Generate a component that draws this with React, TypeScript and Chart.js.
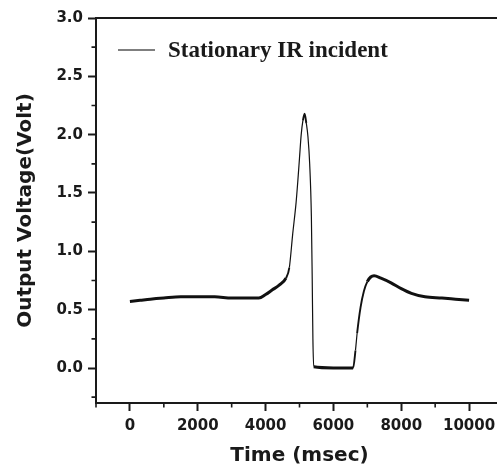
import React, { useEffect, useRef } from "react";
import { Chart, registerables } from "chart.js";

Chart.register(...registerables);

// ---- data ----
const timeMs = [
  0, 300, 600, 1000, 1500, 2000, 2500, 3000, 3500, 3800, 4000, 4200, 4400, 4600,
  4700, 4800, 4900, 4950, 5000, 5050, 5100, 5150, 5200, 5250, 5300, 5350, 5375,
  5395, 5420, 6000, 6580, 6650, 6700, 6800, 6900, 7000, 7100, 7200, 7400, 7700,
  8000, 8300, 8700, 9200, 9600, 10000,
];
const voltage = [
  0.57, 0.58, 0.59, 0.6, 0.61, 0.61, 0.61, 0.6, 0.6, 0.6, 0.63, 0.67, 0.71, 0.77,
  0.86, 1.15, 1.42, 1.6, 1.8, 2.0, 2.12, 2.18, 2.1, 1.98, 1.75, 1.3, 0.76,
  0.25, 0.01, 0.0, 0.0, 0.15, 0.3, 0.52, 0.66, 0.74, 0.78, 0.79, 0.77, 0.73,
  0.68, 0.64, 0.61, 0.6, 0.59, 0.58,
];
const seriesLabel = "Stationary IR incident";
const xTickValues = [0, 2000, 4000, 6000, 8000, 10000];
const xMinorTicks = [-1000, 1000, 3000, 5000, 7000, 9000, 11000];
const yTickValues = [0, 0.5, 1.0, 1.5, 2.0, 2.5, 3.0];
const yMinorTicks = [-0.25, 0.25, 0.75, 1.25, 1.75, 2.25, 2.75];
const xTitle = "Time (msec)";
const yTitle = "Output Voltage(Volt)";

const AXIS_COLOR = "#1a1a1a";

const decorPlugin = {
  id: "decor",
  afterDraw(chart: any) {
    const ctx = chart.ctx;
    const { left, right, top, bottom } = chart.chartArea;
    const xs = chart.scales.x;
    const ys = chart.scales.y;
    ctx.save();
    ctx.strokeStyle = AXIS_COLOR;
    ctx.lineWidth = 2;
    // top frame line
    ctx.beginPath();
    ctx.moveTo(left - 1, top);
    ctx.lineTo(right + 2, top);
    ctx.stroke();
    // minor ticks
    ctx.lineWidth = 1.6;
    ctx.beginPath();
    for (const v of xMinorTicks) {
      const px = xs.getPixelForValue(v);
      ctx.moveTo(px, bottom);
      ctx.lineTo(px, bottom + 4.5);
    }
    for (const v of yMinorTicks) {
      const py = ys.getPixelForValue(v);
      ctx.moveTo(left, py);
      ctx.lineTo(left - 4.5, py);
    }
    ctx.stroke();
    // legend
    const ly = top + 32;
    ctx.strokeStyle = "#555";
    ctx.lineWidth = 1.3;
    ctx.beginPath();
    ctx.moveTo(left + 22, ly);
    ctx.lineTo(left + 59, ly);
    ctx.stroke();
    ctx.fillStyle = "#1a1a1a";
    ctx.font = "bold 23px 'Liberation Serif', 'Times New Roman', serif";
    ctx.textBaseline = "middle";
    ctx.textAlign = "left";
    ctx.fillText(chart.data.datasets[0].label, left + 72, ly + 1);
    ctx.restore();
  },
};

export default function App() {
  const ref = useRef<HTMLCanvasElement | null>(null);
  useEffect(() => {
    if (!ref.current) return;
    const points = timeMs.map((t, i) => ({ x: t, y: voltage[i] }));
    const chart = new Chart(ref.current, {
      type: "line",
      data: {
        datasets: [
          {
            label: seriesLabel,
            data: points,
            borderColor: "#111",
            borderWidth: 3,
            pointRadius: 0,
            cubicInterpolationMode: "monotone",
            fill: false,
            segment: {
              borderWidth: (c: any) => {
                const dx = Math.abs(c.p1.x - c.p0.x);
                const dy = Math.abs(c.p1.y - c.p0.y);
                const s = dy / Math.max(dx, 0.5);
                if (s > 8) return 1.2;
                if (s > 1.5) return 1.9;
                return 3;
              },
            },
          },
        ],
      },
      options: {
        responsive: false,
        animation: false,
        devicePixelRatio: 1,
        layout: { padding: { top: 18, right: 0, left: 0, bottom: 0 } },
        plugins: { legend: { display: false }, tooltip: { enabled: false } },
        scales: {
          x: {
            type: "linear",
            min: -1000,
            max: 11000,
            afterBuildTicks: (s: any) => {
              s.ticks = xTickValues.map((v) => ({ value: v }));
            },
            afterFit: (s: any) => {
              s.height = 68;
            },
            ticks: {
              color: AXIS_COLOR,
              font: { family: "'DejaVu Sans', sans-serif", weight: "bold", size: 15 },
              padding: 6,
              maxRotation: 0,
              callback: (v: any) => String(v),
            },
            grid: {
              drawOnChartArea: false,
              drawTicks: true,
              tickLength: 8,
              tickWidth: 2,
              tickColor: AXIS_COLOR,
            },
            border: { display: true, color: AXIS_COLOR, width: 2 },
            title: {
              display: true,
              text: xTitle,
              color: AXIS_COLOR,
              font: { family: "'DejaVu Sans', sans-serif", weight: "bold", size: 20 },
              padding: { top: 0, bottom: 3 },
            },
          },
          y: {
            type: "linear",
            min: -0.3,
            max: 3.0,
            afterBuildTicks: (s: any) => {
              s.ticks = yTickValues.map((v) => ({ value: v }));
            },
            afterFit: (s: any) => {
              s.width = 96;
            },
            ticks: {
              color: AXIS_COLOR,
              font: { family: "'DejaVu Sans', sans-serif", weight: "bold", size: 15 },
              padding: 5,
              callback: (v: any) => Number(v).toFixed(1),
            },
            grid: {
              drawOnChartArea: false,
              drawTicks: true,
              tickLength: 8,
              tickWidth: 2,
              tickColor: AXIS_COLOR,
            },
            border: { display: true, color: AXIS_COLOR, width: 2 },
            title: {
              display: true,
              text: yTitle,
              color: AXIS_COLOR,
              font: { family: "'DejaVu Sans', sans-serif", weight: "bold", size: 20 },
              padding: { top: 14, bottom: 0 },
            },
          },
        },
      },
      plugins: [decorPlugin],
    });
    return () => chart.destroy();
  }, []);

  return (
    <div
      style={{
        position: "fixed",
        left: 0,
        top: 0,
        width: 497,
        height: 471,
        overflow: "hidden",
        background: "#fff",
      }}
    >
      <canvas ref={ref} width={503} height={471} style={{ display: "block" }} />
    </div>
  );
}
